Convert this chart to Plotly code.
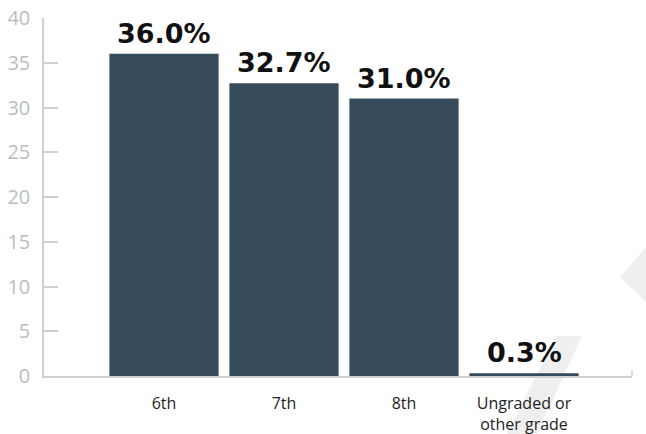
import plotly.graph_objects as go

# Share of students by grade
grades = ["6th", "7th", "8th", "Ungraded or<br>other grade"]
shares = [36.0, 32.7, 31.0, 0.3]
y_ticks = [0, 5, 10, 15, 20, 25, 30, 35, 40]

BAR = "#364b5a"
AXIS = "#d0d0d0"

# plot-area geometry in pixels (used for the faint background mark)
W, H = 646, 434
L, R, T, B = 44, 14, 18, 58
PW, PH = W - L - R, H - T - B


def px(x, y):
    return (x - L) / PW, (H - B - y) / PH


def poly(points):
    parts = []
    for i, (x, y) in enumerate(points):
        fx, fy = px(x, y)
        parts.append(("M" if i == 0 else "L") + f"{fx:.4f},{fy:.4f}")
    return " ".join(parts) + " Z"


fig = go.Figure(
    go.Bar(
        x=list(range(len(grades))),
        y=shares,
        marker=dict(color=BAR, line=dict(width=0)),
        width=0.91,
        hoverinfo="skip",
    )
)

for i, v in enumerate(shares):
    fig.add_annotation(
        x=i, y=v, text=f"<b>{v:.1f}%</b>", showarrow=False,
        yanchor="bottom", yshift=3,
        font=dict(family="DejaVu Sans", size=27, color="#111111"),
    )

# faint background mark
mark = "#efefef"
fig.add_shape(type="path", xref="paper", yref="paper", layer="below",
              path=poly([(648, 245), (620, 277), (648, 304)]),
              fillcolor=mark, line=dict(width=0))
fig.add_shape(type="path", xref="paper", yref="paper", layer="below",
              path=poly([(556, 336), (582, 336), (536, 436), (506, 436)]),
              fillcolor=mark, line=dict(width=0))

# small tick at the right end of the baseline
fig.add_shape(type="line", xref="paper", yref="paper",
              x0=1, x1=1, y0=0, y1=6 / PH,
              line=dict(color=AXIS, width=1.5))

fig.update_layout(
    width=W, height=H,
    margin=dict(l=L, r=R, t=T, b=B),
    paper_bgcolor="white", plot_bgcolor="rgba(0,0,0,0)",
    showlegend=False,
    bargap=0.09,
    xaxis=dict(
        range=[-1.0, 3.9], automargin=False,
        tickmode="array", tickvals=list(range(len(grades))), ticktext=grades,
        showline=True, linecolor=AXIS, linewidth=1.5,
        showgrid=False, zeroline=False, ticks="",
        ticklabelstandoff=12,
        tickfont=dict(family="Open Sans", size=16, color="#222222"),
    ),
    yaxis=dict(
        range=[0, 40], automargin=False,
        tickmode="array", tickvals=y_ticks,
        showline=True, linecolor=AXIS, linewidth=1.5,
        showgrid=False, zeroline=False,
        ticks="inside", ticklen=14, tickcolor=AXIS, tickwidth=1.5,
        ticklabelstandoff=8,
        tickfont=dict(family="Open Sans", size=20, color="#bdbdbd"),
    ),
)

fig.write_html("out.html")
